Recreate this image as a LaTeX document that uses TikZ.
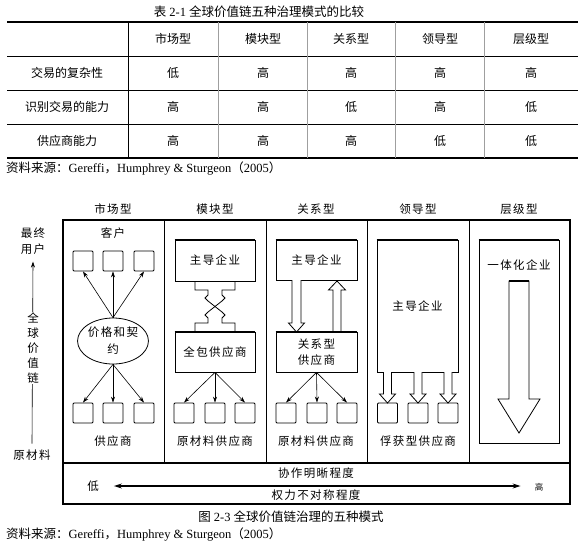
\documentclass[tikz,border=0pt]{standalone}
\usepackage{fontspec}
\setmainfont{Liberation Serif}
\newfontfamily\cjk{Noto Sans CJK SC}
\newfontfamily\cjkd[LetterSpace=12]{Noto Sans CJK SC}
\usetikzlibrary{arrows.meta,shapes.geometric}

\tikzset{
    cell/.style={font=\cjk\fontsize{12}{14}\selectfont, inner sep=0pt},
    lbl/.style={font=\cjkd\fontsize{11.5}{13}\selectfont, inner sep=0pt, align=center},
    smallbox/.style={draw, line width=0.9pt, minimum width=20pt, minimum height=20pt, inner sep=0pt, rounded corners=1pt},
    firmbox/.style={draw, line width=0.8pt, inner sep=0pt, align=center, font=\cjkd\fontsize{11.5}{16}\selectfont},
    thinarrow/.style={-{Stealth[length=6pt,width=4pt]}, line width=0.6pt},
    hollow/.style={draw, line width=0.8pt, fill=white},
    rule/.style={line width=1.1pt},
}

% hollow block arrows: x, y start, y tip, shaft half width, head half width, head length
\newcommand{\hollowdown}[6]{%
    \draw[hollow] (#1-#4,#2) -- (#1-#4,#3-#6) -- (#1-#5,#3-#6) -- (#1,#3)
        -- (#1+#5,#3-#6) -- (#1+#4,#3-#6) -- (#1+#4,#2);}
\newcommand{\hollowup}[6]{%
    \draw[hollow] (#1-#4,#2) -- (#1-#4,#3+#6) -- (#1-#5,#3+#6) -- (#1,#3)
        -- (#1+#5,#3+#6) -- (#1+#4,#3+#6) -- (#1+#4,#2);}

\begin{document}
\begin{tikzpicture}[x=1pt, y=-1pt]
\useasboundingbox[fill=white] (0,0) rectangle (586,544);

% ---------------- Table 2-1 ----------------
\node[cell, font=\fontsize{12.5}{14}\selectfont] (tabtitle) at (259,12)
    {{\cjk 表} 2-1 {\cjk 全球价值链五种治理模式的比较}};

\draw[rule] (7,22) -- (578,22);
\draw[line width=0.8pt] (7,56) -- (578,56);
\draw[line width=0.8pt] (7,90) -- (578,90);
\draw[line width=0.8pt] (7,124) -- (578,124);
\draw[rule] (7,158) -- (578,158);
\draw[line width=0.8pt] (128,22) -- (128,158);
\foreach \x in {218,307,395,484}
    \draw[line width=0.9pt, gray!75] (\x,22) -- (\x,158);

\foreach \x/\txt [count=\i] in {173/市场型,263/模块型,351/关系型,440/领导型,531/层级型}
    \node[cell] (hd\i) at (\x,39) {\txt};

\foreach \y/\lab/\a/\b/\c/\d/\e [count=\r] in {
    73/交易的复杂性/低/高/高/高/高,
    107/识别交易的能力/高/高/低/高/低,
    141/供应商能力/高/高/高/低/低} {
    \node[cell] (rl\r) at (67,\y) {\lab};
    \foreach \x/\v [count=\k] in {173/\a,263/\b,351/\c,440/\d,531/\e}
        \node[cell] (c\r\k) at (\x,\y) {\v};
}

\node[cell, anchor=west, font=\fontsize{12.5}{14}\selectfont] (tabsrc) at (6,168)
    {{\cjk 资料来源：}Gereffi{\cjk ，}Humphrey \& Sturgeon{\cjk （}2005{\cjk ）}};

% ---------------- Figure 2-3 ----------------
% column heads
\foreach \x/\txt [count=\i] in {113/市场型,215/模块型,316/关系型,418/领导型,519/层级型}
    \node[lbl] (col\i) at (\x,209) {\txt};

% frame
\draw[line width=1.3pt] (63,463) -- (63,220) -- (570,220) -- (570,463);
\foreach \x in {164,266,367,469}
    \draw[line width=0.8pt] (\x,220) -- (\x,463);
\draw[line width=1.3pt] (63,463) -- (63,504) (570,463) -- (570,504);
\draw[line width=2.6pt] (63,463) -- (570,463);
\draw[line width=2pt] (62,504) -- (571,504);

% value chain axis
\node[lbl, font=\cjkd\fontsize{11.5}{16}\selectfont] (enduser) at (33,241) {最终\\用户};
\node[lbl] (rawmat) at (32,455) {原材料};
\coordinate (axbot) at ([yshift=6pt]rawmat.north);
\draw[thinarrow] (axbot) -- ([yshift=-7pt]enduser.south);
\node[lbl, font=\cjkd\fontsize{11.5}{14.8}\selectfont, fill=white, inner sep=1.5pt] (chain) at (33,348)
    {全\\球\\价\\值\\链};

% market
\node[lbl] (customer) at (113,233) {客户};
\foreach \x [count=\i] in {83,113,144} {
    \node[smallbox] (mc\i) at (\x,261) {};
    \node[smallbox] (ms\i) at (\x,413) {};
}
\node[draw, ellipse, line width=0.8pt, minimum width=70pt, minimum height=46pt, inner sep=0pt,
      align=center, font=\cjkd\fontsize{11.5}{17}\selectfont] (price) at (113,341) {价格和契\\约};
\foreach \i in {1,2,3} {
    \draw[thinarrow] (price.north) -- (mc\i.south);
    \draw[thinarrow] (price.south) -- (ms\i.north);
}
\node[lbl] (msup) at (113,441) {供应商};

% modular
\node[firmbox, minimum width=80pt, minimum height=41pt] (modlead) at (215,260.5) {主导企业};
\node[firmbox, minimum width=80pt, minimum height=40pt] (modsup) at (215,352) {全包供应商};
\draw[line width=0.8pt] (195,281) -- (195,290) -- (208,290) -- (208,295) -- (205,298) -- (208,301)
    -- (222,312) -- (225,315) -- (222,318) -- (222,323) -- (235,323) -- (235,332);
\draw[line width=0.8pt] (235,281) -- (235,290) -- (222,290) -- (222,295) -- (225,298) -- (222,301)
    -- (208,312) -- (205,315) -- (208,318) -- (208,323) -- (195,323) -- (195,332);
\foreach \x [count=\i] in {184,215,245} {
    \node[smallbox] (mb\i) at (\x,413) {};
    \draw[thinarrow] (modsup.south) -- (mb\i.north);
}
\node[lbl] (modraw) at (215,441) {原材料供应商};

% relational
\node[firmbox, minimum width=81pt, minimum height=40pt] (rellead) at (316.5,260) {主导企业};
\node[firmbox, minimum width=81pt, minimum height=40pt] (relsup) at (316.5,352) {关系型\\供应商};
\hollowdown{296.5}{280}{332}{4.5}{8}{9}
\hollowup{337}{332}{281}{4}{8.5}{9}
\foreach \x [count=\i] in {286,317,347} {
    \node[smallbox] (rb\i) at (\x,413) {};
    \draw[thinarrow] (relsup.south) -- (rb\i.north);
}
\node[lbl] (relraw) at (316,441) {原材料供应商};

% leader (captive)
\node[firmbox, minimum width=81pt, minimum height=132pt] (ldlead) at (417.5,306) {主导企业};
\foreach \x [count=\i] in {387.5,418,448} {
    \node[smallbox] (lb\i) at (\x,413) {};
    \hollowdown{\x}{372}{403}{4}{8}{9}
}
\node[lbl] (ldcap) at (418,441) {俘获型供应商};

% hierarchy
\node[firmbox, minimum width=80pt, minimum height=203pt] (hierfirm) at (519,341.5) {};
\node[lbl] (hiertxt) at (519,265) {一体化企业};
\draw[hollow] (509,281) -- (509,399) -- (498,399) -- (519,433) -- (540,399) -- (529,399) -- (529,281) -- cycle;
\draw[line width=2pt] (509,281) -- (529,281);

% thick top edges
\foreach \n in {modlead,modsup,rellead,relsup,ldlead,hierfirm}
    \draw[line width=2.2pt] (\n.north west) -- (\n.north east);

% bottom band
\node[lbl] (clarity) at (316,473) {协作明晰程度};
\node[lbl] (power) at (316,495) {权力不对称程度};
\node[lbl] (low) at (93,486) {低};
\node[lbl, font=\cjk\fontsize{8.5}{10}\selectfont] (high) at (539,487) {高};
\draw[{Stealth[length=8pt,width=5pt]}-{Stealth[length=8pt,width=5pt]}, line width=1.1pt,
      shorten <=15pt, shorten >=14pt] (low.east) -- (high.west |- low.east);

% caption
\node[cell, font=\fontsize{12.5}{14}\selectfont] (figcap) at (291,517)
    {{\cjk 图} 2-3 {\cjk 全球价值链治理的五种模式}};
\node[cell, anchor=west, font=\fontsize{12.5}{14}\selectfont] (figsrc) at (6,534)
    {{\cjk 资料来源：}Gereffi{\cjk ，}Humphrey \& Sturgeon{\cjk （}2005{\cjk ）}};

\end{tikzpicture}
\end{document}
